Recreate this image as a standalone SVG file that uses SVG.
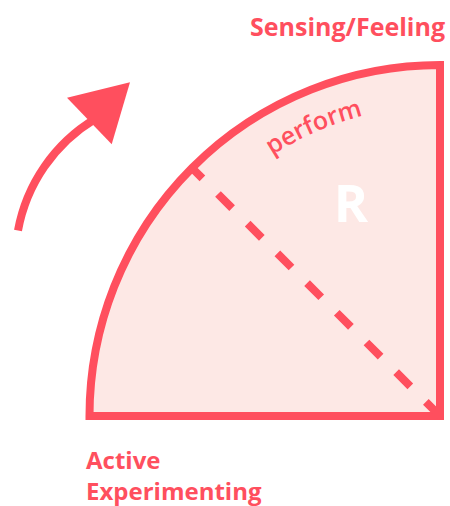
<svg xmlns="http://www.w3.org/2000/svg" width="450" height="506" viewBox="0 0 450 506">
  <style>
    .lbl { font-family: "Open Sans", "DejaVu Sans", sans-serif; font-weight: 700; font-size: 25px; fill: #FF4F5E; }
    .small { font-size: 24px; }
    .red { stroke: #FF4F5E; stroke-width: 8; fill: none; }
  </style>
  <defs>
    <path id="performPath" d="M220.8,196.8 A310,310 0 0,1 440,106"/>
  </defs>
  <rect width="450" height="506" fill="#FFFFFF"/>
  <g id="quadrant">
    <path d="M89.5,416 A350.5,351 0 0,1 440,65 L440,416 Z" fill="#FDE8E5" stroke="#FF4F5E" stroke-width="8" stroke-linejoin="miter"/>
  </g>
  <g id="connectors">
    <line class="red" x1="440" y1="416" x2="192" y2="168" stroke-dasharray="20 22"/>
    <path id="rotation-arrow" class="red" d="M18,230.5 A165,165 0 0,1 95,119"/>
    <polygon points="67,97.7 130,82.3 111.7,144.3" fill="#FF4F5E"/>
  </g>
  <g id="label-perform">
    <text class="lbl" style="font-weight:600"><textPath href="#performPath" startOffset="116" text-anchor="middle">perform</textPath></text>
  </g>
  <g id="label-R">
    <text x="351" y="222" text-anchor="middle" font-family="'Open Sans', 'DejaVu Sans', sans-serif" font-weight="700" font-size="52" fill="#FFFFFF">R</text>
  </g>
  <g id="label-sensing">
    <text class="lbl" x="445" y="36" text-anchor="end">Sensing/Feeling</text>
  </g>
  <g id="label-active">
    <text class="lbl small" x="86" y="469">Active</text>
    <text class="lbl small" x="86" y="500">Experimenting</text>
  </g>
</svg>
